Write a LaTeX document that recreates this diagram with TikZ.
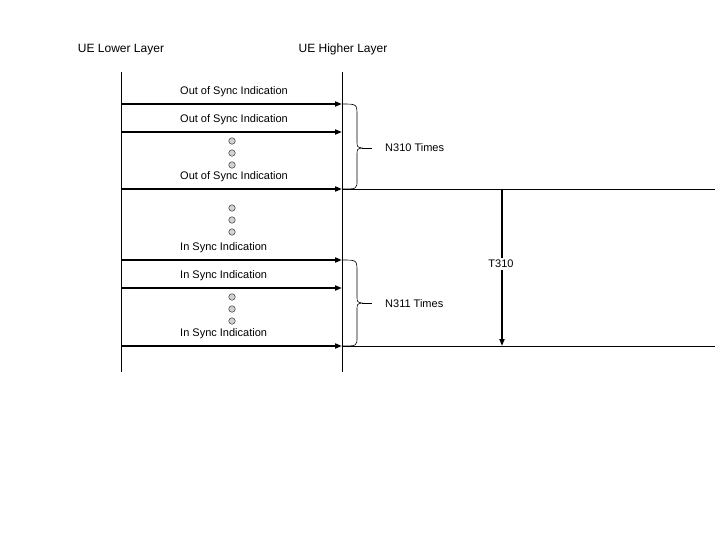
\documentclass[tikz,border=0pt]{standalone}
\usepackage{fontspec}
\setmainfont{Liberation Sans}
\usetikzlibrary{arrows.meta}
\begin{document}
\begin{tikzpicture}[x=1pt,y=-1pt,
  lifeline/.style={line width=0.8pt},
  msg/.style={line width=1.8pt,-{Triangle[length=7pt,width=5pt]}},
  thin/.style={line width=0.8pt},
  lbl/.style={font=\fontsize{11}{13}\selectfont,inner sep=0pt,anchor=base west},
  title/.style={font=\fontsize{12}{14}\selectfont,inner sep=0pt,anchor=base},
  dot/.style={circle,draw=black!80,fill=gray!35,line width=0.5pt,minimum size=6.5pt,inner sep=0pt},
  brc/.style={line width=0.6pt},
  side/.style={font=\fontsize{11}{13}\selectfont,inner sep=0pt,anchor=base west}]
\useasboundingbox (0,0) rectangle (720,540);
% titles
\node[title] (tl) at (121,53) {UE Lower Layer};
\node[title] (th) at (343,53) {UE Higher Layer};
% lifelines
\coordinate (lt) at (121,72); \coordinate (lb) at (121,372);
\coordinate (rt) at (342,72); \coordinate (rb) at (342,372);
\draw[lifeline] (lt) -- (lb);
\draw[lifeline] (rt) -- (rb);
% message end points
\foreach \n/\y in {1/104,2/132,3/189,4/260,5/288,6/346}{
  \coordinate (a\n) at (121,\y);
  \coordinate (b\n) at (342,\y);
}
\coordinate (e3) at (715,189);
\coordinate (e6) at (715,346);
\foreach \n in {1,...,6}{ \draw[msg] (a\n) -- (b\n); }
\draw[thin] (b3) -- (e3);
\draw[thin] (b6) -- (e6);
% labels
\node[lbl] (m1) at (180,95) {Out of Sync Indication};
\node[lbl] (m2) at (180,123) {Out of Sync Indication};
\node[lbl] (m3) at (180,180) {Out of Sync Indication};
\node[lbl] (m4) at (180,251) {In Sync Indication};
\node[lbl] (m5) at (180,278) {In Sync Indication};
\node[lbl] (m6) at (180,336) {In Sync Indication};
% dots
\foreach \i/\y in {1/141,2/153,3/165,4/208,5/220,6/232,7/297,8/309,9/321}{
  \node[dot] (d\i) at (232,\y) {};
}
% braces
\draw[brc] (b1) .. controls (357,104) .. (357,116) -- (357,141)
  .. controls (357,147) .. (362,148) .. controls (357,149) .. (357,155)
  -- (357,180) .. controls (357,189) .. (b3);
\coordinate (tip1) at (362,148); \coordinate (tip1e) at (372,148);
\draw[brc] (tip1) -- (tip1e);
\node[side] (n310) at (385,152) {N310 Times};
\draw[brc] (b4) .. controls (357,260) .. (357,272) -- (357,296)
  .. controls (357,302) .. (362,303) .. controls (357,304) .. (357,310)
  -- (357,337) .. controls (357,346) .. (b6);
\coordinate (tip2) at (362,303); \coordinate (tip2e) at (372,303);
\draw[brc] (tip2) -- (tip2e);
\node[side] (n311) at (385,307) {N311 Times};
% T310
\coordinate (t1) at (502,189); \coordinate (t2) at (502,346);
\draw[line width=1.6pt,-{Triangle[length=7pt,width=5pt]}] (t1) -- (t2);
\node[font=\fontsize{11}{13}\selectfont,fill=white,inner sep=2pt] (t310) at (501,264) {T310};
\end{tikzpicture}
\end{document}
